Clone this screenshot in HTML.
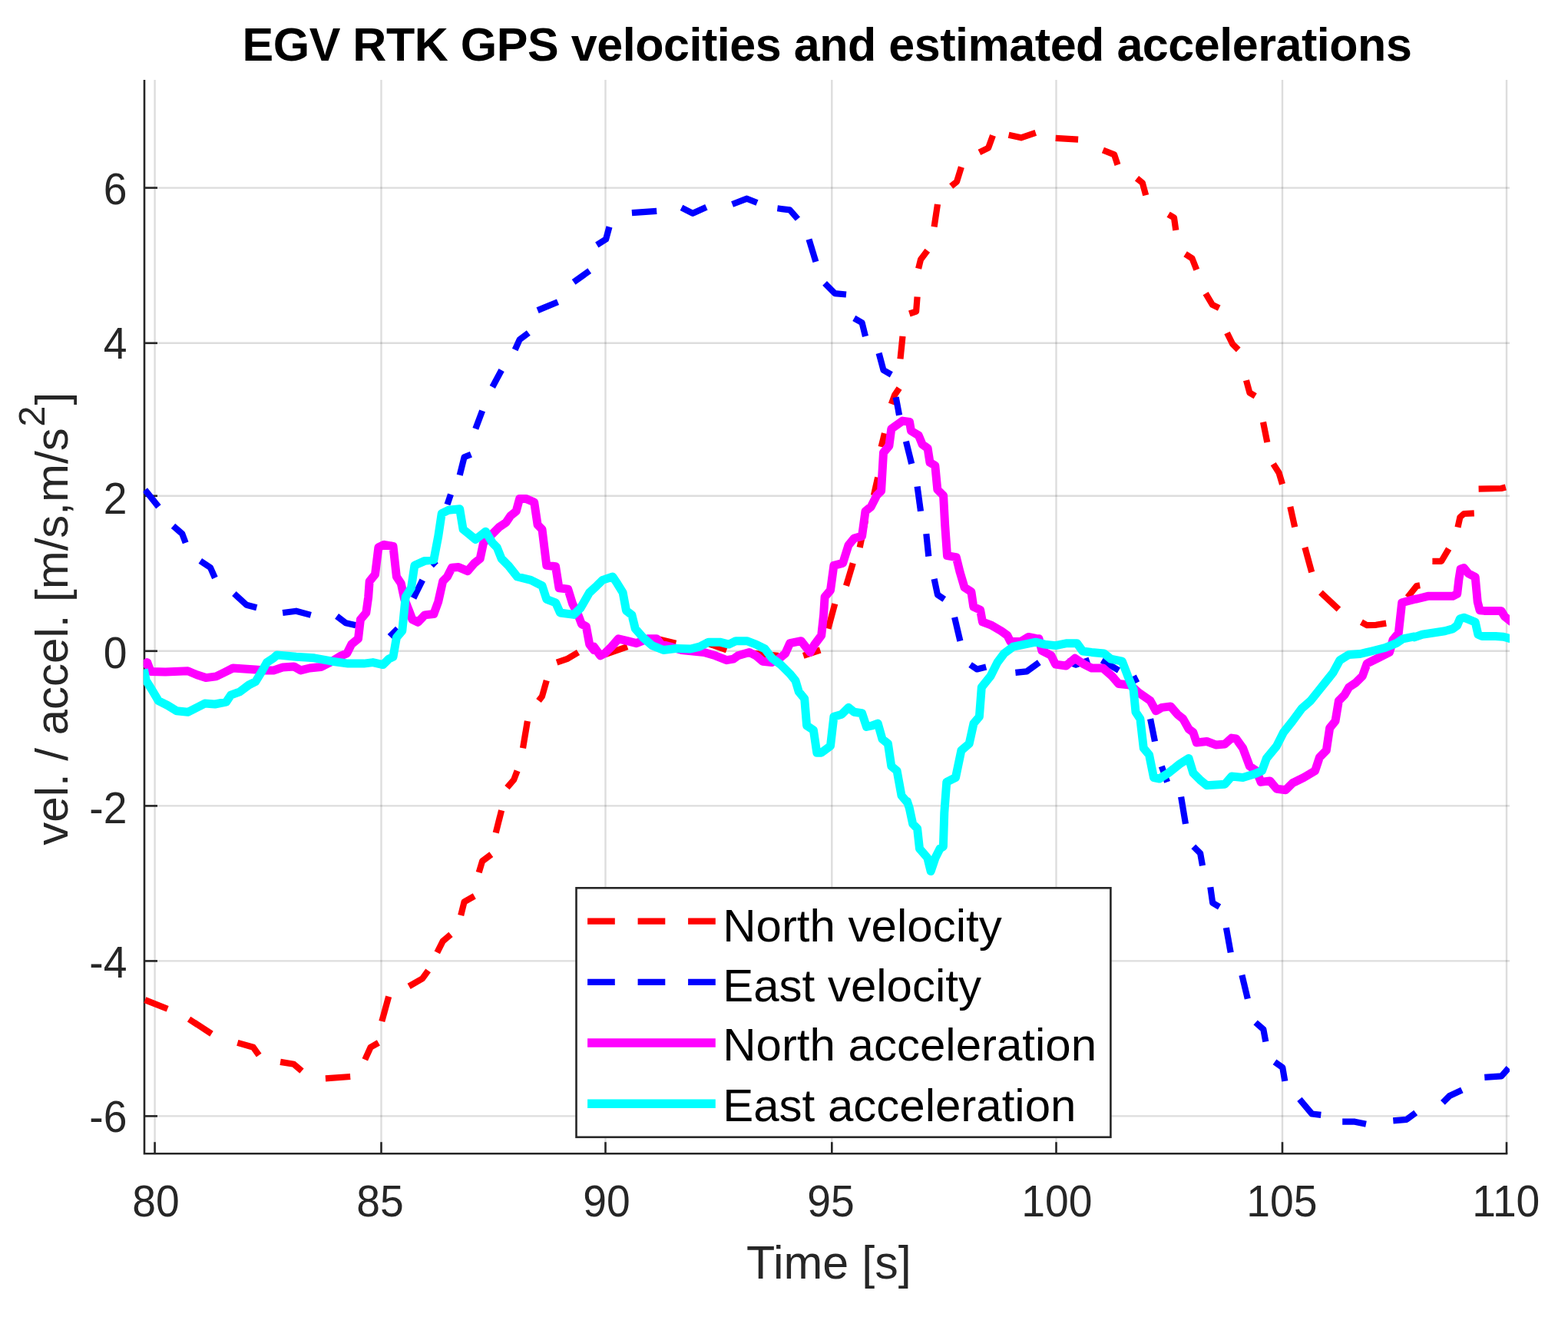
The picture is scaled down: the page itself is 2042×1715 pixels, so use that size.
<!DOCTYPE html>
<html lang="en"><head><meta charset="utf-8"><title>EGV RTK GPS velocities and estimated accelerations</title>
<style>html,body{margin:0;padding:0;background:#fff}svg{display:block}text{font-family:"Liberation Sans",sans-serif}</style>
</head><body>
<svg width="2042" height="1715" viewBox="0 0 2042 1715">
<rect width="2042" height="1715" fill="#fff"/>
<defs><clipPath id="ax"><rect x="186.7" y="102.0" width="1779.3" height="1401.5"/></clipPath></defs>
<g stroke="#262626" stroke-opacity="0.155" stroke-width="2.4" fill="none">
<line x1="201.6" y1="104.0" x2="201.6" y2="1502.2"/>
<line x1="496.5" y1="104.0" x2="496.5" y2="1502.2"/>
<line x1="788.5" y1="104.0" x2="788.5" y2="1502.2"/>
<line x1="1083.3" y1="104.0" x2="1083.3" y2="1502.2"/>
<line x1="1375.5" y1="104.0" x2="1375.5" y2="1502.2"/>
<line x1="1670.0" y1="104.0" x2="1670.0" y2="1502.2"/>
<line x1="1962.0" y1="104.0" x2="1962.0" y2="1502.2"/>
<line x1="188.0" y1="244.6" x2="1966.0" y2="244.6"/>
<line x1="188.0" y1="446.8" x2="1966.0" y2="446.8"/>
<line x1="188.0" y1="645.8" x2="1966.0" y2="645.8"/>
<line x1="188.0" y1="847.8" x2="1966.0" y2="847.8"/>
<line x1="188.0" y1="1049.4" x2="1966.0" y2="1049.4"/>
<line x1="188.0" y1="1251.4" x2="1966.0" y2="1251.4"/>
<line x1="188.0" y1="1453.4" x2="1966.0" y2="1453.4"/>
</g>
<g stroke="#262626" stroke-width="2.6" fill="none" stroke-linecap="butt">
<path d="M188.0,104.0 V1502.2 H1963.3"/>
<line x1="201.6" y1="1502.2" x2="201.6" y2="1487.2"/>
<line x1="496.5" y1="1502.2" x2="496.5" y2="1487.2"/>
<line x1="788.5" y1="1502.2" x2="788.5" y2="1487.2"/>
<line x1="1083.3" y1="1502.2" x2="1083.3" y2="1487.2"/>
<line x1="1375.5" y1="1502.2" x2="1375.5" y2="1487.2"/>
<line x1="1670.0" y1="1502.2" x2="1670.0" y2="1487.2"/>
<line x1="1962.0" y1="1502.2" x2="1962.0" y2="1487.2"/>
<line x1="188.0" y1="244.6" x2="205.0" y2="244.6"/>
<line x1="188.0" y1="446.8" x2="205.0" y2="446.8"/>
<line x1="188.0" y1="645.8" x2="205.0" y2="645.8"/>
<line x1="188.0" y1="847.8" x2="205.0" y2="847.8"/>
<line x1="188.0" y1="1049.4" x2="205.0" y2="1049.4"/>
<line x1="188.0" y1="1251.4" x2="205.0" y2="1251.4"/>
<line x1="188.0" y1="1453.4" x2="205.0" y2="1453.4"/>
</g>
<g clip-path="url(#ax)" fill="none" stroke-linejoin="round">
<g stroke="#ff0000" stroke-width="8.2">
<polyline points="188.8,1302.1 218.2,1313.8"/>
<polyline points="246.1,1327.1 275.5,1346.2"/>
<polyline points="309.3,1357.9 329.9,1363.8 337.2,1374.1"/>
<polyline points="365.1,1382.9 382.7,1385.8 393.0,1394.6"/>
<polyline points="423.9,1404.3 456.2,1402.0"/>
<polyline points="475.3,1379.9 482.6,1363.8 492.9,1357.9"/>
<polyline points="497.3,1330.0 506.2,1297.7"/>
<polyline points="532.6,1284.4 550.2,1274.2 557.6,1263.9"/>
<polyline points="569.3,1240.4 576.7,1225.7 587.0,1216.9"/>
<polyline points="600.2,1191.9 604.6,1174.3 617.8,1166.9"/>
<polyline points="623.7,1136.1 628.1,1121.4 639.8,1112.6"/>
<polyline points="645.7,1084.6 653.1,1055.3"/>
<polyline points="660.4,1025.7 669.2,1015.4 673.6,1003.7"/>
<polyline points="681.0,974.3 686.9,939.0"/>
<polyline points="701.5,912.6 706.0,906.7 711.8,886.2"/>
<polyline points="725.1,862.6 738.3,858.2 753.0,849.4"/>
<polyline points="787.6,852.4 817.0,842.1"/>
<polyline points="855.2,831.8 880.2,837.7"/>
<polyline points="916.9,836.2 946.3,846.5"/>
<polyline points="981.6,850.9 1013.9,853.8"/>
<polyline points="1046.2,853.8 1068.2,846.5"/>
<polyline points="1078.5,818.6 1087.3,786.2"/>
<polyline points="1102.0,762.7 1110.8,733.4"/>
<polyline points="1119.7,712.8 1127.0,677.5"/>
<polyline points="1137.9,645.2 1143.2,621.7"/>
<polyline points="1147.6,581.9 1152.0,564.3"/>
<polyline points="1160.8,526.1 1165.2,514.3 1171.1,505.5"/>
<polyline points="1172.5,467.3 1175.5,437.9"/>
<polyline points="1184.3,408.5 1193.1,405.6 1194.6,386.5"/>
<polyline points="1196.1,349.8 1199.0,338.0 1207.8,326.2"/>
<polyline points="1216.6,295.4 1221.0,266.0"/>
<polyline points="1238.7,242.5 1246.0,236.6 1251.9,217.5"/>
<polyline points="1275.4,198.4 1287.1,192.6 1293.0,176.4"/>
<polyline points="1313.6,175.8 1329.7,179.3 1348.8,172.9"/>
<polyline points="1374.7,179.9 1404.1,181.7"/>
<polyline points="1436.4,195.5 1451.1,201.4 1455.5,214.6"/>
<polyline points="1480.5,232.2 1487.8,238.1 1492.2,254.3"/>
<polyline points="1521.6,279.2 1529.0,283.6 1531.3,299.8"/>
<polyline points="1543.6,330.7 1552.5,336.5 1558.3,351.2"/>
<polyline points="1570.1,382.1 1578.9,396.8 1587.7,401.2"/>
<polyline points="1598.0,433.5 1605.3,448.2 1612.7,455.5"/>
<polyline points="1623.0,495.2 1627.4,511.4 1634.7,515.8"/>
<polyline points="1645.0,549.6 1650.3,576.0"/>
<polyline points="1658.2,604.1 1665.6,615.8 1670.0,630.5"/>
<polyline points="1680.3,659.9 1686.2,686.3"/>
<polyline points="1699.4,712.8 1708.2,745.1"/>
<polyline points="1719.9,771.6 1743.4,793.6"/>
<polyline points="1772.9,810.1 1780.2,814.2 1792.0,813.8 1805.2,811.6"/>
<polyline points="1833.1,777.8 1844.8,763.1 1849.2,762.3"/>
<polyline points="1865.4,730.8 1877.2,730.8 1886.7,714.6"/>
<polyline points="1898.5,686.7 1901.4,673.5 1906.5,669.0 1919.8,668.3"/>
<polyline points="1925.6,636.7 1955.0,636.0 1960.9,634.5"/>
</g>
<g stroke="#0000ff" stroke-width="8.2">
<polyline points="188.8,637.9 206.4,659.9"/>
<polyline points="225.5,684.9 237.3,695.2 241.7,706.9"/>
<polyline points="260.8,730.4 274.0,739.2 279.9,752.5"/>
<polyline points="304.9,773.0 321.0,787.7 334.3,791.2"/>
<polyline points="368.1,798.0 385.7,795.7 404.8,800.9"/>
<polyline points="438.6,802.4 450.3,811.2 463.5,814.2"/>
<polyline points="507.6,828.9 517.9,818.6"/>
<polyline points="538.5,778.9 550.2,755.4"/>
<polyline points="562.0,736.3 567.9,730.4"/>
<polyline points="582.5,657.0 587.0,643.7"/>
<polyline points="598.7,618.8 604.6,595.3 613.4,591.7"/>
<polyline points="619.3,558.4 628.1,534.9"/>
<polyline points="641.3,504.0 653.1,482.0"/>
<polyline points="670.7,455.5 676.6,442.3 688.3,433.5"/>
<polyline points="700.1,404.1 726.5,393.2"/>
<polyline points="747.1,367.4 767.7,352.7"/>
<polyline points="777.3,318.9 789.1,311.6 793.5,295.4"/>
<polyline points="822.9,277.2 855.2,274.8"/>
<polyline points="887.5,270.4 902.2,277.8 919.9,269.8"/>
<polyline points="953.6,266.0 972.7,258.7 986.0,264.0"/>
<polyline points="1012.4,271.3 1028.6,273.4 1038.9,285.1"/>
<polyline points="1053.5,311.6 1062.4,340.9"/>
<polyline points="1074.1,368.9 1087.3,382.1 1102.0,383.5"/>
<polyline points="1112.3,414.4 1122.6,420.3 1127.0,437.9"/>
<polyline points="1144.6,459.9 1150.5,482.0 1160.8,487.9"/>
<polyline points="1166.7,517.2 1171.1,540.7"/>
<polyline points="1179.9,574.7 1187.2,604.1"/>
<polyline points="1194.6,633.5 1199.0,665.8"/>
<polyline points="1206.3,695.2 1209.3,724.5"/>
<polyline points="1216.6,753.9 1221.0,774.5 1229.8,780.4"/>
<polyline points="1243.1,803.9 1250.4,834.7"/>
<polyline points="1263.6,865.6 1272.4,871.5 1284.2,868.5"/>
<polyline points="1322.4,875.9 1337.1,874.4 1353.3,862.6"/>
<polyline points="1389.4,861.2 1401.1,865.6 1418.8,859.7"/>
<polyline points="1434.9,859.7 1457.0,872.9"/>
<polyline points="1476.1,880.3 1480.5,889.1"/>
<polyline points="1498.1,936.1 1504.0,965.5"/>
<polyline points="1512.8,997.8 1520.1,1018.4"/>
<polyline points="1538.1,1037.6 1544.0,1072.9"/>
<polyline points="1554.3,1102.3 1563.1,1111.1 1566.0,1127.2"/>
<polyline points="1576.3,1155.2 1579.2,1175.7 1588.1,1181.0"/>
<polyline points="1596.9,1208.1 1602.7,1240.4"/>
<polyline points="1617.4,1269.8 1624.8,1300.6"/>
<polyline points="1635.1,1331.5 1645.3,1340.3 1648.3,1356.4"/>
<polyline points="1660.0,1382.9 1670.3,1390.2 1673.3,1407.9"/>
<polyline points="1692.4,1431.4 1708.5,1450.5 1720.3,1451.9"/>
<polyline points="1748.2,1460.7 1764.3,1460.7 1779.0,1463.7"/>
<polyline points="1814.3,1459.3 1831.9,1457.8 1843.7,1449.0"/>
<polyline points="1878.9,1435.8 1887.8,1427.0 1903.9,1419.6"/>
<polyline points="1933.3,1402.9 1955.3,1401.4 1964.7,1390.8"/>
</g>
<polyline stroke="#ff00ff" stroke-width="11.0" points="185.9,867.1 191.8,862.6 196.2,874.4 215.3,875.0 244.6,873.8 256.4,878.8 268.1,882.6 281.4,880.9 291.7,875.9 303.4,870.0 318.1,870.9 332.8,872.0 344.5,872.9 356.3,872.9 368.1,869.1 382.7,867.9 391.6,872.9 403.3,870.0 418.0,868.5 429.8,862.6 444.4,853.8 451.8,850.9 457.7,839.1 466.5,831.8 469.4,806.8 476.8,798.0 479.7,777.4 481.2,756.9 488.5,748.1 492.9,712.8 500.3,709.3 512.0,711.3 516.4,751.0 522.3,759.8 526.7,780.4 532.6,795.1 537.0,806.8 544.3,810.3 553.2,800.9 564.9,799.5 570.8,783.3 576.7,756.9 582.5,751.0 588.4,739.2 597.2,738.6 609.0,743.6 617.8,733.4 625.2,727.5 629.6,706.9 638.4,698.1 650.1,686.3 658.9,680.5 664.8,671.7 672.2,665.8 676.6,649.6 685.4,649.6 695.7,654.0 700.1,683.4 706.0,689.3 708.9,712.8 711.8,736.3 723.6,737.8 728.0,765.7 739.7,767.1 745.6,786.2 753.0,800.9 757.4,812.7 763.3,815.6 767.7,839.1 773.5,846.5 773.5,842.1 781.8,853.8 787.6,850.9 796.4,842.1 805.3,831.8 817.0,834.7 828.8,837.7 843.5,831.8 855.2,831.8 861.1,839.1 872.8,842.1 887.5,846.5 902.2,848.0 916.9,849.4 931.6,853.8 946.3,859.7 955.1,858.2 961.0,853.8 975.7,849.4 984.5,853.8 993.3,861.2 1005.1,862.6 1013.9,858.2 1022.7,850.9 1028.6,837.7 1043.3,834.7 1049.1,842.1 1055.0,849.4 1060.9,839.1 1069.7,827.4 1072.6,800.9 1074.1,777.4 1081.5,768.6 1085.9,736.3 1097.6,733.4 1105.0,709.9 1112.3,701.0 1122.6,698.1 1127.0,665.8 1134.3,659.9 1141.7,645.2 1147.6,639.3 1150.5,589.4 1157.9,580.6 1160.8,558.4 1175.5,548.1 1184.5,549.4 1186.5,561.1 1196.3,567.0 1201.2,578.8 1208.1,583.7 1211.0,602.3 1217.8,606.2 1220.8,637.5 1228.6,645.4 1230.6,682.6 1233.5,723.7 1245.3,725.7 1250.2,745.3 1256.0,764.9 1264.9,770.7 1267.8,790.3 1276.6,794.2 1279.5,809.9 1290.3,813.8 1304.0,821.7 1311.9,827.5 1315.8,835.4 1329.5,835.4 1339.3,829.5 1349.1,831.5 1353.0,831.8 1356.9,847.4 1368.7,853.3 1374.6,865.1 1388.3,867.0 1400.0,857.2 1411.8,865.1 1421.7,870.0 1436.4,870.0 1448.1,880.3 1457.0,890.6 1471.7,892.0 1483.4,902.3 1498.1,912.6 1505.4,925.8 1512.8,921.4 1524.5,919.9 1533.4,930.2 1540.7,936.1 1548.1,949.3 1553.9,953.7 1558.3,967.0 1571.6,965.5 1583.3,969.9 1595.1,969.0 1603.9,961.1 1609.8,962.0 1618.6,974.3 1627.4,997.8 1636.2,1003.7 1642.1,1018.4 1653.8,1016.9 1662.6,1027.2 1674.4,1028.7 1683.2,1019.8 1697.9,1012.5 1712.6,1003.7 1718.5,986.1 1727.3,977.2 1731.7,947.9 1739.0,939.0 1743.4,912.6 1750.8,905.2 1756.7,895.0 1765.5,889.1 1774.3,880.3 1780.2,864.1 1794.9,856.8 1809.6,849.4 1814.0,833.3 1821.3,824.4 1825.7,784.8 1841.9,780.4 1844.8,780.0 1859.5,776.3 1874.2,776.3 1891.9,776.3 1897.7,773.4 1899.9,754.3 1902.1,741.0 1906.5,739.6 1912.4,746.9 1921.2,751.3 1924.2,783.6 1927.1,794.7 1933.0,795.4 1955.0,795.4 1959.4,802.7 1966.0,807.9 1971.2,811.6"/>
<polyline stroke="#00ffff" stroke-width="11.0" points="187.3,871.5 190.3,886.2 197.6,897.9 206.4,912.6 218.2,918.5 230.0,925.8 244.6,927.3 256.4,921.4 266.7,916.1 279.9,917.0 294.6,914.1 300.5,905.2 312.2,900.8 324.0,892.0 332.8,887.6 340.1,875.9 347.5,862.6 356.3,856.8 360.7,852.9 385.7,855.3 409.2,856.8 432.7,861.2 453.3,864.1 473.8,864.1 485.6,862.6 498.8,865.6 506.2,858.2 512.0,855.3 516.4,830.3 523.8,821.5 528.2,777.4 535.5,765.7 539.9,736.3 553.2,730.4 564.9,729.0 570.8,698.1 575.2,668.7 584.0,664.3 598.7,662.8 603.1,689.3 610.5,695.2 619.3,702.5 632.5,692.2 641.3,706.9 647.2,712.8 653.1,727.5 661.9,736.3 673.6,751.0 691.3,755.4 706.0,762.7 711.8,780.4 723.6,784.8 729.5,798.0 747.1,800.4 755.9,792.1 767.7,771.6 777.3,762.7 784.7,755.4 797.9,751.0 803.8,759.8 811.1,771.6 815.5,795.1 822.9,800.9 827.3,818.6 837.6,830.3 849.3,840.6 864.0,846.5 881.7,844.4 899.3,845.0 911.0,842.1 922.8,836.2 937.5,836.2 949.2,839.1 958.1,834.7 972.7,834.7 984.5,839.1 996.2,845.0 1005.1,856.8 1016.8,865.6 1028.6,877.3 1035.9,886.2 1040.3,900.8 1047.7,909.7 1050.6,944.9 1059.4,950.8 1063.8,980.2 1069.7,980.2 1081.5,971.4 1085.9,933.2 1096.2,930.2 1105.0,921.4 1112.3,927.3 1122.6,928.8 1128.5,946.4 1135.8,944.9 1143.2,942.0 1149.0,962.5 1156.4,968.4 1160.8,997.8 1168.1,1003.7 1174.0,1036.0 1181.4,1044.8 1181.4,1043.5 1184.3,1052.3 1188.7,1072.9 1194.6,1078.8 1197.5,1105.2 1207.8,1117.0 1212.2,1134.6 1218.1,1117.0 1224.0,1105.2 1228.4,1102.3 1229.8,1058.2 1232.8,1018.4 1244.5,1012.5 1251.9,977.2 1262.2,968.4 1268.0,942.0 1275.4,933.2 1278.3,895.0 1290.1,880.3 1298.9,862.6 1307.7,850.9 1319.5,842.1 1334.2,839.1 1348.8,836.2 1360.6,839.1 1374.7,840.6 1389.4,837.7 1402.6,837.7 1410.0,848.0 1421.7,849.4 1437.9,850.9 1446.7,858.2 1461.4,861.2 1468.7,880.3 1476.1,897.9 1479.0,927.3 1484.9,936.1 1489.3,974.3 1496.6,983.1 1502.5,1012.5 1509.9,1014.0 1521.6,1006.6 1536.3,994.9 1548.1,987.5 1553.9,1006.6 1562.7,1015.4 1571.6,1022.8 1595.1,1021.3 1603.9,1011.0 1618.6,1012.5 1633.3,1008.1 1643.5,1003.7 1649.4,987.5 1662.6,971.4 1671.5,953.7 1683.2,939.0 1695.0,922.9 1706.7,912.6 1718.5,897.9 1730.2,883.2 1736.1,875.9 1744.9,859.7 1756.7,852.4 1771.4,851.5 1786.1,848.0 1803.7,843.5 1818.4,837.7 1827.2,831.8 1841.9,828.9 1841.9,829.9 1852.2,826.2 1866.9,824.0 1881.6,821.8 1891.9,818.9 1897.7,814.5 1901.4,805.7 1906.5,804.2 1913.9,807.1 1921.2,810.1 1924.9,826.2 1930.1,828.5 1947.7,828.5 1958.0,829.2 1966.0,831.4 1971.2,832.9"/>
</g>
<g font-size="57" fill="#262626" text-anchor="middle">
<text transform="translate(203.1,1584.3) scale(0.97,1)">80</text>
<text transform="translate(494.9,1584.3) scale(0.97,1)">85</text>
<text transform="translate(789.9,1584.3) scale(0.97,1)">90</text>
<text transform="translate(1082.1,1584.3) scale(0.97,1)">95</text>
<text transform="translate(1376.4,1584.3) scale(0.97,1)">100</text>
<text transform="translate(1669.3,1584.3) scale(0.97,1)">105</text>
<text transform="translate(1961.3,1584.3) scale(0.97,1)">110</text>
</g>
<g font-size="57" fill="#262626" text-anchor="end">
<text transform="translate(165.4,265.6) scale(0.97,1)">6</text>
<text transform="translate(165.4,467.1) scale(0.97,1)">4</text>
<text transform="translate(165.4,668.5) scale(0.97,1)">2</text>
<text transform="translate(165.4,870.0) scale(0.97,1)">0</text>
<text transform="translate(165.4,1071.5) scale(0.97,1)">-2</text>
<text transform="translate(165.4,1272.9) scale(0.97,1)">-4</text>
<text transform="translate(165.4,1474.4) scale(0.97,1)">-6</text>
</g>
<text x="1079.3" y="1665" font-size="61" fill="#262626" text-anchor="middle">Time [s]</text>
<text transform="translate(87.8,805.8) rotate(-90)" font-size="60" fill="#262626" text-anchor="middle">vel. / accel. [m/s,m/s<tspan font-size="49" dy="-30" dx="1.5">2</tspan><tspan dy="30" dx="1">]</tspan></text>
<text x="1076.9" y="79.2" font-size="61" letter-spacing="-0.46" font-weight="bold" fill="#000" text-anchor="middle">EGV RTK GPS velocities and estimated accelerations</text>
<rect x="750.5" y="1156.3" width="695.9000000000001" height="324.5" fill="#fff" stroke="#262626" stroke-width="2.6"/>
<line x1="765.1" y1="1199.7" x2="931.8" y2="1199.7" stroke="#ff0000" stroke-width="8.2" stroke-dasharray="35.7 29.8"/>
<text x="941.2" y="1225.7" font-size="60" fill="#000">North velocity</text>
<line x1="765.1" y1="1278.9" x2="931.8" y2="1278.9" stroke="#0000ff" stroke-width="8.2" stroke-dasharray="35.7 29.8"/>
<text x="941.2" y="1304.4" font-size="60" fill="#000">East velocity</text>
<line x1="765.1" y1="1357.9" x2="931.8" y2="1357.9" stroke="#ff00ff" stroke-width="11.5"/>
<text x="941.2" y="1381.1" font-size="60" fill="#000">North acceleration</text>
<line x1="765.1" y1="1437.3" x2="931.8" y2="1437.3" stroke="#00ffff" stroke-width="11.5"/>
<text x="941.2" y="1459.8" font-size="60" fill="#000">East acceleration</text>
</svg>
</body></html>
